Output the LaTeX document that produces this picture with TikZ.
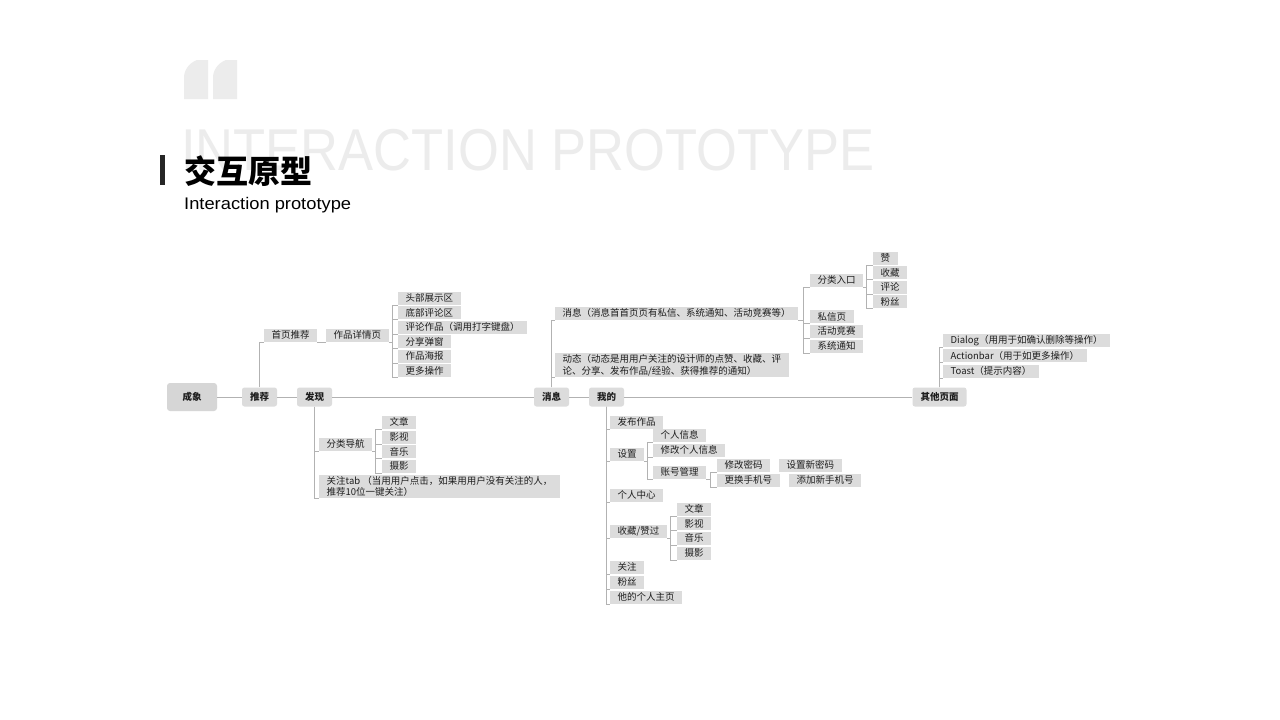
\documentclass[tikz,border=0pt]{standalone}
\usepackage{fontspec}
\usepackage{graphicx}
\setmainfont{Noto Sans CJK SC}
\newfontfamily\lib{Liberation Sans}
\definecolor{boxgray}{RGB}{220,220,220}
\definecolor{rootgray}{RGB}{214,214,214}
\definecolor{linegray}{RGB}{178,178,178}
\definecolor{wmgray}{RGB}{236,236,236}
\definecolor{txt}{RGB}{30,30,30}
\begin{document}
\begin{tikzpicture}[x=1pt,y=-1pt,
  leaf/.style={fill=boxgray, text=txt, inner xsep=7.5pt, inner ysep=0pt, minimum height=13pt, anchor=south west, font=\fontsize{9.5}{11.5}\selectfont},
  leaftwo/.style={leaf, align=left, inner ysep=1pt},
  mainnode/.style={fill=boxgray, text=txt, rounded corners=2.5pt, minimum height=19pt, minimum width=35pt, inner xsep=8pt, inner ysep=0pt, font=\bfseries\fontsize{9.5}{11}\selectfont},
  rootnode/.style={fill=rootgray, text=txt, rounded corners=3pt, minimum height=28pt, minimum width=50pt, inner sep=0pt, font=\bfseries\fontsize{9.5}{11}\selectfont},
  conn/.style={draw=linegray, line width=0.8pt}]
\useasboundingbox (0,0) rectangle (1280,720);
\fill[white] (0,0) rectangle (1280,720);

% header
\foreach \x in {184,213}
  \fill[wmgray] (\x,99) -- (\x+24,99) -- (\x+24,60) -- (\x+13,60) .. controls (\x+5,63) and (\x,70) .. (\x,78) -- cycle;
\node[anchor=base west, inner sep=0pt, text=wmgray, font=\lib\fontsize{59}{59}\selectfont] (wm) at (181,170) {\scalebox{0.89}[1]{INTERACTION PROTOTYPE}};
\fill[black!85] (160,155) rectangle (165,185);
\node[anchor=west, inner sep=0pt, text=black, font=\bfseries\fontsize{32}{32}\selectfont] (title) at (184,171) {交互原型};
\node[anchor=base west, inner sep=0pt, text=black, font=\lib\fontsize{16.8}{16.8}\selectfont] (sub) at (184,209.5) {\scalebox{1.09}[1]{Interaction prototype}};

% main row
\node[rootnode] (cx) at (192,397) {成象};
\node[mainnode] (tj) at (259.5,397) {推荐};
\node[mainnode] (fx) at (314.5,397) {发现};
\node[mainnode] (xx) at (551.5,397) {消息};
\node[mainnode] (wd) at (606.5,397) {我的};
\node[mainnode] (qt) at (939.5,397) {其他页面};

% 推荐
\node[leaf] (syt) at (264,342) {首页推荐};
\node[leaf] (zp) at (326,342) {作品详情页};
\node[leaf] (zp1) at (398,305) {头部展示区};
\node[leaf] (zp2) at (398,319.5) {底部评论区};
\node[leaf] (zp3) at (398,334) {评论作品（调用打字键盘）};
\node[leaf] (zp4) at (398,348.5) {分享弹窗};
\node[leaf] (zp5) at (398,363) {作品海报};
\node[leaf] (zp6) at (398,377.5) {更多操作};

% 发现
\node[leaf] (fl) at (319,451) {分类导航};
\node[leaf] (fl1) at (382,429) {文章};
\node[leaf] (fl2) at (382,444) {影视};
\node[leaf] (fl3) at (382,458.5) {音乐};
\node[leaf] (fl4) at (382,473) {摄影};
\node[leaftwo] (gz) at (319,498) {关注tab （当用用户点击，如果用用户没有关注的人，\\推荐10位一键关注）};

% 消息
\node[leaf] (xm) at (555,320) {消息（消息首首页页有私信、系统通知、活动竞赛等）};
\node[leaftwo] (dt) at (555,377) {动态（动态是用用户关注的设计师的点赞、收藏、评\\论、分享、发布作品/经验、获得推荐的通知）};
\node[leaf] (rk) at (810,287) {分类入口};
\node[leaf] (sx) at (810,323.5) {私信页};
\node[leaf] (hd) at (810,338) {活动竞赛};
\node[leaf] (xt) at (810,353) {系统通知};
\node[leaf] (rk1) at (873,265) {赞};
\node[leaf] (rk2) at (873,279.5) {收藏};
\node[leaf] (rk3) at (873,294) {评论};
\node[leaf] (rk4) at (873,308.5) {粉丝};

% 其他页面
\node[leaf] (qt1) at (943,347) {Dialog（用用于如确认删除等操作）};
\node[leaf] (qt2) at (943,362.5) {Actionbar（用于如更多操作）};
\node[leaf] (qt3) at (943,378) {Toast（提示内容）};

% 我的
\node[leaf] (w1) at (610,429) {发布作品};
\node[leaf] (w2) at (610,461) {设置};
\node[leaf] (w3) at (610,502) {个人中心};
\node[leaf] (w4) at (610,538) {收藏/赞过};
\node[leaf] (w5) at (610,574) {关注};
\node[leaf] (w6) at (610,589) {粉丝};
\node[leaf] (w7) at (610,604) {他的个人主页};
\node[leaf] (s1) at (653,442) {个人信息};
\node[leaf] (s2) at (653,457) {修改个人信息};
\node[leaf] (s3) at (653,479) {账号管理};
\node[leaf] (a1) at (717,472) {修改密码};
\node[leaf] (a2) at (717,487) {更换手机号};
\node[leaf] (a1b) at (779,472) {设置新密码};
\node[leaf] (a2b) at (789,487) {添加新手机号};
\node[leaf] (c1) at (677,516) {文章};
\node[leaf] (c2) at (677,530.5) {影视};
\node[leaf] (c3) at (677,545) {音乐};
\node[leaf] (c4) at (677,560) {摄影};

% connectors
\draw[conn] (cx) -- (tj);
\draw[conn] (tj) -- (fx);
\draw[conn] (fx) -- (xx);
\draw[conn] (xx) -- (wd);
\draw[conn] (wd) -- (qt);

\draw[conn] (tj.north) |- (syt.south west);
\draw[conn] (syt.south east) -- (zp.south west);
\coordinate (zpT) at (392,342);
\draw[conn] (zp.south east) -- (zpT);
\foreach \n in {zp1,zp2,zp3,zp4,zp5,zp6} \draw[conn] (zpT) |- (\n.south west);

\draw[conn] (fx.south) |- (fl.south west);
\draw[conn] (fx.south) |- (gz.south west);
\coordinate (flT) at (375,451);
\draw[conn] (fl.south east) -- (flT);
\foreach \n in {fl1,fl2,fl3,fl4} \draw[conn] (flT) |- (\n.south west);

\draw[conn] (xx.north) |- (xm.south west);
\draw[conn] (xx.north) |- (dt.south west);
\coordinate (xmT) at (803,320);
\draw[conn] (xm.south east) -- (xmT);
\foreach \n in {rk,sx,hd,xt} \draw[conn] (xmT) |- (\n.south west);
\coordinate (rkT) at (866,287);
\draw[conn] (rk.south east) -- (rkT);
\foreach \n in {rk1,rk2,rk3,rk4} \draw[conn] (rkT) |- (\n.south west);

\foreach \n in {qt1,qt2,qt3} \draw[conn] (qt.north) |- (\n.south west);

\foreach \n in {w1,w2,w3,w4,w5,w6,w7} \draw[conn] (wd.south) |- (\n.south west);
\coordinate (w2T) at (647,461);
\draw[conn] (w2.south east) -- (w2T);
\foreach \n in {s1,s2,s3} \draw[conn] (w2T) |- (\n.south west);
\coordinate (s3T) at (710,479);
\draw[conn] (s3.south east) -- (s3T);
\foreach \n in {a1,a2} \draw[conn] (s3T) |- (\n.south west);
\coordinate (w4T) at (670,538);
\draw[conn] (w4.south east) -- (w4T);
\foreach \n in {c1,c2,c3,c4} \draw[conn] (w4T) |- (\n.south west);
\end{tikzpicture}
\end{document}
